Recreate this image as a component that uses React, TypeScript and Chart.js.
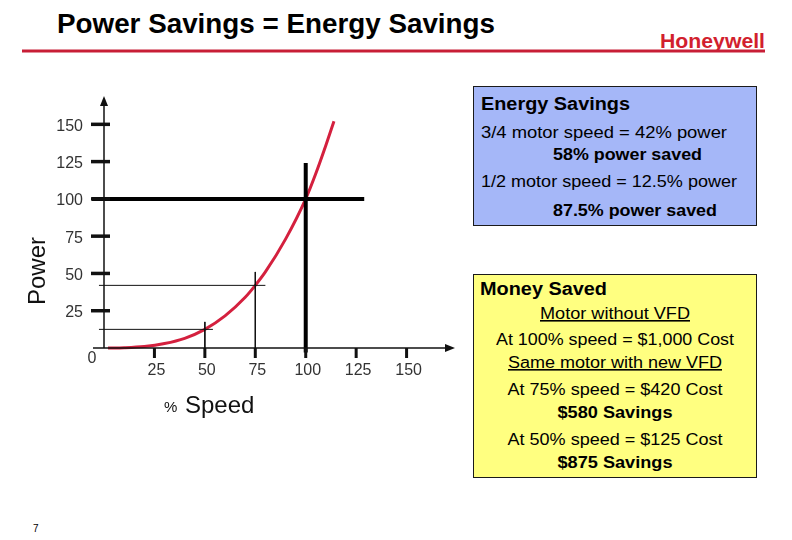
import React, { useEffect, useRef } from "react";
import { Chart, registerables } from "chart.js";
Chart.register(...registerables);

// ---- data ----
const speedPct = [2, 10, 20, 30, 40, 50, 60, 70, 75, 80, 90, 100, 105, 110, 114];
const powerPct = [0, 0.2, 1, 3, 6.5, 12.5, 21.5, 34, 42, 51, 73, 100, 117, 136, 152];
const xTickValues = [25, 50, 75, 100, 125, 150];
const yTickValues = [25, 50, 75, 100, 125, 150];
const xTickLabels = ["25", "50", "75", "100", "125", "150"];
const yTickLabels = ["25", "50", "75", "100", "125", "150"];
const refSpeeds = [75, 50];
const refPowers = [42, 12.5];

const energyLines = [
  "3/4 motor speed =  42% power",
  "58% power saved",
  "1/2 motor speed = 12.5% power",
  "87.5% power saved",
];
const moneyLines = [
  "Motor without VFD",
  "At 100% speed = $1,000 Cost",
  "Same motor with new VFD",
  "At 75% speed = $420 Cost",
  "$580 Savings",
  "At 50% speed = $125 Cost",
  "$875 Savings",
];

const FONT = "'Liberation Sans', Arial, sans-serif";

const axesPlugin = {
  id: "slideAxes",
  afterDatasetsDraw(chart: any) {
    const ctx = chart.ctx;
    const xs = chart.scales.x;
    const ys = chart.scales.y;
    const x0 = xs.getPixelForValue(0);
    const y0 = ys.getPixelForValue(0);
    const top = chart.chartArea.top;
    const right = chart.chartArea.right;
    ctx.save();
    ctx.strokeStyle = "#111";
    ctx.fillStyle = "#111";
    // y axis
    ctx.lineWidth = 1.5;
    ctx.beginPath();
    ctx.moveTo(x0, y0);
    ctx.lineTo(x0, top + 8);
    ctx.stroke();
    ctx.beginPath();
    ctx.moveTo(x0, top);
    ctx.lineTo(x0 - 4, top + 10);
    ctx.lineTo(x0 + 4, top + 10);
    ctx.closePath();
    ctx.fill();
    // x axis
    ctx.beginPath();
    ctx.moveTo(x0 - 11, y0);
    ctx.lineTo(right - 8, y0);
    ctx.stroke();
    ctx.beginPath();
    ctx.moveTo(right, y0);
    ctx.lineTo(right - 10, y0 - 4);
    ctx.lineTo(right - 10, y0 + 4);
    ctx.closePath();
    ctx.fill();
    // y tick marks
    ctx.lineWidth = 3.5;
    yTickValues.forEach((v) => {
      const py = ys.getPixelForValue(v);
      ctx.beginPath();
      ctx.moveTo(x0 - 13, py);
      ctx.lineTo(x0 + 6, py);
      ctx.stroke();
    });
    // x tick marks
    ctx.lineWidth = 3;
    xTickValues.forEach((v) => {
      const px = xs.getPixelForValue(v);
      ctx.beginPath();
      ctx.moveTo(px, y0);
      ctx.lineTo(px, y0 + 10);
      ctx.stroke();
    });
    // labels
    ctx.fillStyle = "#333";
    ctx.font = `16px ${FONT}`;
    ctx.textBaseline = "middle";
    ctx.textAlign = "right";
    yTickValues.forEach((v, i) => {
      ctx.fillText(yTickLabels[i], x0 - 21, ys.getPixelForValue(v) + 2);
    });
    ctx.textAlign = "center";
    xTickValues.forEach((v, i) => {
      ctx.fillText(xTickLabels[i], xs.getPixelForValue(v) + 2, y0 + 23);
    });
    ctx.fillText("0", x0 - 12, y0 + 11);
    // axis titles
    ctx.fillStyle = "#111";
    ctx.font = `24px ${FONT}`;
    ctx.save();
    ctx.translate(38, 271);
    ctx.rotate(-Math.PI / 2);
    ctx.textAlign = "center";
    ctx.textBaseline = "middle";
    ctx.fillText("Power", 0, 0);
    ctx.restore();
    ctx.textAlign = "left";
    ctx.textBaseline = "alphabetic";
    ctx.font = `15px ${FONT}`;
    ctx.fillText("%", 164, 412);
    ctx.font = `24px ${FONT}`;
    ctx.fillText("Speed", 185, 413);
    ctx.restore();
  },
};

function ChartCanvas() {
  const ref = useRef<HTMLCanvasElement | null>(null);
  useEffect(() => {
    if (!ref.current) return;
    const curve = speedPct.map((s, i) => ({ x: s, y: powerPct[i] }));
    const thin = (pts: any[]) => ({
      data: pts,
      borderColor: "#111",
      borderWidth: 1,
      pointRadius: 0,
      showLine: true,
      clip: false as any,
    });
    const datasets: any[] = [
      {
        data: [{ x: -6, y: 100 }, { x: 129, y: 100 }],
        borderColor: "#000",
        borderWidth: 4,
        pointRadius: 0,
        showLine: true,
        clip: false,
      },
      {
        data: [{ x: 100, y: 124 }, { x: 100, y: -3 }],
        borderColor: "#000",
        borderWidth: 4,
        pointRadius: 0,
        showLine: true,
        clip: false,
      },
      thin([{ x: -2.5, y: refPowers[0] }, { x: refSpeeds[0] + 5, y: refPowers[0] }]),
      thin([{ x: refSpeeds[0], y: 51 }, { x: refSpeeds[0], y: 0 }]),
      thin([{ x: -2.5, y: refPowers[1] }, { x: refSpeeds[1] + 4, y: refPowers[1] }]),
      thin([{ x: refSpeeds[1], y: 17.5 }, { x: refSpeeds[1], y: 0 }]),
      {
        data: curve,
        borderColor: "#d4203e",
        borderWidth: 3,
        pointRadius: 0,
        showLine: true,
        cubicInterpolationMode: "monotone",
        clip: false,
      },
    ];
    const chart = new Chart(ref.current, {
      type: "scatter",
      data: { datasets },
      options: {
        responsive: false,
        animation: false,
        devicePixelRatio: 1,
        layout: { padding: { left: 104, right: 337, top: 96, bottom: 192 } },
        plugins: { legend: { display: false }, tooltip: { enabled: false } },
        scales: {
          x: { type: "linear", min: 0, max: 174, display: false },
          y: { type: "linear", min: 0, max: 169, display: false },
        },
      },
      plugins: [axesPlugin],
    });
    return () => chart.destroy();
  }, []);
  return (
    <canvas
      ref={ref}
      width={792}
      height={540}
      style={{ position: "absolute", left: 0, top: 0, width: 792, height: 540 }}
    />
  );
}

export default function App() {
  const energyY = [138, 160, 187, 216];
  const energyX = [481, 553, 481, 553];
  const energyLen = [246, 149, 256, 164];
  const energyBold = [false, true, false, true];
  const moneyY = [319, 345, 368, 395, 418, 445, 468];
  const moneyLen = [150, 238, 214, 215, 115, 215, 115];
  const moneyBold = [false, false, false, false, true, false, true];
  const moneyUnder = [true, false, true, false, false, false, false];
  return (
    <div style={{ position: "absolute", left: 0, top: 0, width: 792, height: 540, background: "#fff", overflow: "hidden" }}>
      <svg width={792} height={540} style={{ position: "absolute", left: 0, top: 0 }}>
        <text x={57} y={33} fontFamily="'Liberation Sans Narrow', 'Liberation Sans', Arial" fontWeight="bold" fontSize={27} textLength={438} lengthAdjust="spacingAndGlyphs" fill="#000">
          Power Savings = Energy Savings
        </text>
        <text x={660} y={48} fontFamily="'Liberation Sans Narrow', 'Liberation Sans', Arial" fontWeight="bold" fontSize={20} textLength={105} lengthAdjust="spacingAndGlyphs" fill="#d21f2e">
          Honeywell
        </text>
        <rect x={22} y={49.5} width={743} height={3} fill="#c81e36" />
        <rect x={473.5} y={86.5} width={283} height={139} fill="#a5b7f8" stroke="#1a1a1a" strokeWidth={1} />
        <rect x={473.5} y={274.5} width={283} height={203} fill="#ffff80" stroke="#1a1a1a" strokeWidth={1} />
        <text x={481} y={110} fontFamily={FONT} fontWeight="bold" fontSize={18} textLength={149} lengthAdjust="spacingAndGlyphs" fill="#000">
          Energy Savings
        </text>
        {energyLines.map((t, i) => (
          <text key={t} x={energyX[i]} y={energyY[i]} fontFamily={FONT} fontWeight={energyBold[i] ? "bold" : "normal"} fontSize={16} textLength={energyLen[i]} lengthAdjust="spacingAndGlyphs" fill="#000">
            {t}
          </text>
        ))}
        <text x={480} y={295} fontFamily={FONT} fontWeight="bold" fontSize={18} textLength={127} lengthAdjust="spacingAndGlyphs" fill="#000">
          Money Saved
        </text>
        {moneyLines.map((t, i) => (
          <text key={t} x={615 - moneyLen[i] / 2} y={moneyY[i]} fontFamily={FONT} fontWeight={moneyBold[i] ? "bold" : "normal"} fontSize={16} textLength={moneyLen[i]} lengthAdjust="spacingAndGlyphs" textDecoration={moneyUnder[i] ? "underline" : undefined} fill="#000">
            {t}
          </text>
        ))}
        <text x={33} y={532} fontFamily={FONT} fontSize={10} fill="#000">7</text>
      </svg>
      <ChartCanvas />
    </div>
  );
}
